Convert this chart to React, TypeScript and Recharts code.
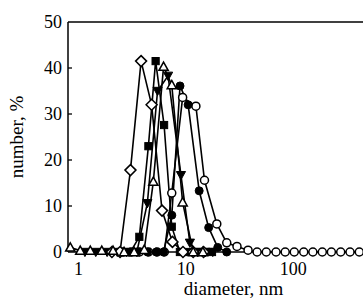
import React from 'react';
import { LineChart, Line, XAxis, YAxis, ReferenceLine } from 'recharts';

const xTicks = [1, 10, 100];
const yTicks = [0, 10, 20, 30, 40, 50];

const diamondD = [2.05, 2.44, 3.05, 3.83, 4.8, 6.0, 7.5, 9.4, 11.7, 14.6];
const diamondV = [0, 0, 17.8, 41.5, 32, 9, 2.2, 0, 0, 0];

const triUpD = [0.84, 1.04, 1.29, 1.65, 2.1, 2.66, 3.3, 4.1, 4.98, 6.2, 7.39, 9.33, 11.7, 14.4];
const triUpV = [1, 0.3, 0.3, 0.3, 0.3, 0, 0, 0.5, 15.3, 40.3, 36.3, 10.8, 0, 0];

const squareD = [2.5, 3.05, 3.69, 4.48, 5.23, 6.27, 7.39, 8.8, 10.5, 12.4, 14.7, 17.5];
const squareV = [0, 0, 3.3, 23, 41.5, 27.6, 5.5, 0, 0, 0, 0, 0];

const triDownD = [1.15, 1.45, 1.85, 2.3, 2.8, 3.5, 4.38, 5.45, 6.83, 9.0, 10.9, 12.8, 15.2, 17.8];
const triDownV = [0, 0, 0, 0, 0, 0, 10.6, 35, 38.3, 16.7, 2, 0, 0, 0];

const dotD = [3.5, 4.4, 5.3, 6.2, 7.4, 8.82, 10.5, 13.3, 16.3, 19.8, 24];
const dotV = [0, 0, 0, 0, 8, 36.1, 32, 13.3, 5.3, 1, 0];

const circleD = [2.6, 3.1, 3.7, 4.5, 5.4, 6.3, 7.39, 9.33, 12.4, 14.9, 19.4, 24, 29.9, 37.9, 46, 56, 69, 84, 102, 125, 152, 186, 226, 276, 337, 411];
const circleV = [0, 0, 0, 0, 0, 0, 12.8, 33.6, 31.7, 15.6, 6.1, 2, 1.2, 0.4, 0, 0, 0, 0, 0, 0, 0, 0, 0, 0, 0, 0];

const toData = (d: number[], v: number[]) => d.map((x, i) => ({ x, y: v[i] }));

const FONT = "'Liberation Serif', 'Times New Roman', Times, Tinos, 'DejaVu Serif', 'Noto Serif', serif";

const makeDot = (shape: string) => (props: any) => {
  const { cx, cy, index } = props;
  const key = `${shape}-${index}`;
  if (cx == null || cy == null) return <g key={key} />;
  const sw = 1.5;
  switch (shape) {
    case 'diamond': {
      const r = 5.5;
      return <polygon key={key} points={`${cx},${cy - r} ${cx + r},${cy} ${cx},${cy + r} ${cx - r},${cy}`} fill="#fff" stroke="#000" strokeWidth={sw} />;
    }
    case 'square': {
      const h = 3.6;
      return <rect key={key} x={cx - h} y={cy - h} width={2 * h} height={2 * h} fill="#000" stroke="#000" strokeWidth={1} />;
    }
    case 'triUp': {
      const s = 4.6;
      return <polygon key={key} points={`${cx},${cy - s} ${cx + s},${cy + s * 0.8} ${cx - s},${cy + s * 0.8}`} fill="#fff" stroke="#000" strokeWidth={sw} />;
    }
    case 'triDown': {
      const s = 4.6;
      return <polygon key={key} points={`${cx},${cy + s} ${cx + s},${cy - s * 0.8} ${cx - s},${cy - s * 0.8}`} fill="#000" stroke="#000" strokeWidth={1} />;
    }
    case 'dot':
      return <circle key={key} cx={cx} cy={cy} r={4} fill="#000" stroke="#000" strokeWidth={1} />;
    default:
      return <circle key={key} cx={cx} cy={cy} r={4} fill="#fff" stroke="#000" strokeWidth={sw} />;
  }
};

const textStyle = { fontFamily: FONT };

const YTick = (props: any) => {
  const { x, y, payload } = props;
  const v = payload.value;
  return (
    <g>
      {v !== 0 && v !== 50 && <line x1={x + 8} x2={x + 12} y1={y} y2={y} stroke="#000" strokeWidth={1.3} />}
      <text x={x + 2} y={y + 6} textAnchor="end" style={textStyle} fontSize={18} fill="#000">{v}</text>
    </g>
  );
};

const XTick = (props: any) => {
  const { x, y, payload } = props;
  return (
    <text x={x} y={y + 15} textAnchor="middle" style={textStyle} fontSize={18} fill="#000">{payload.value}</text>
  );
};

const YLabel = (props: any) => {
  const vb = props.viewBox;
  const cx = vb.x + 23;
  const cy = vb.y + vb.height / 2;
  return (
    <text x={cx} y={cy} transform={`rotate(-90 ${cx} ${cy})`} textAnchor="middle" style={textStyle} fontSize={19} fill="#000">number, %</text>
  );
};

const XLabel = (props: any) => {
  const vb = props.viewBox;
  const cx = vb.x + vb.width / 2 + 18;
  const cy = vb.y + 43;
  return (
    <text x={cx} y={cy} textAnchor="middle" style={textStyle} fontSize={19} fill="#000">diameter, nm</text>
  );
};

const series = [
  { name: 'circle', data: toData(circleD, circleV) },
  { name: 'dot', data: toData(dotD, dotV) },
  { name: 'triDown', data: toData(triDownD, triDownV) },
  { name: 'square', data: toData(squareD, squareV) },
  { name: 'diamond', data: toData(diamondD, diamondV) },
  { name: 'triUp', data: toData(triUpD, triUpV) },
];

export default function App() {
  return (
    <div style={{ position: 'absolute', left: 0, top: 0, background: '#fff' }}>
      <LineChart width={363} height={301} margin={{ top: 22, right: 0, bottom: 0, left: 0 }}>
        <XAxis
          dataKey="x"
          type="number"
          scale="log"
          domain={[0.8, 445]}
          ticks={xTicks}
          tick={<XTick />}
          tickLine={false}
          axisLine={{ stroke: '#000', strokeWidth: 1.5 }}
          height={49}
          label={<XLabel />}
        />
        <YAxis
          type="number"
          domain={[0, 50]}
          ticks={yTicks}
          tick={<YTick />}
          tickLine={false}
          axisLine={{ stroke: '#000', strokeWidth: 1.5 }}
          width={68}
          label={<YLabel />}
        />
        <ReferenceLine y={50} stroke="#000" strokeWidth={1.5} />
        {series.map((s) => (
          <Line
            key={s.name}
            data={s.data}
            dataKey="y"
            stroke="#000"
            strokeWidth={1.6}
            dot={makeDot(s.name)}
            activeDot={false}
            isAnimationActive={false}
          />
        ))}
      </LineChart>
    </div>
  );
}
